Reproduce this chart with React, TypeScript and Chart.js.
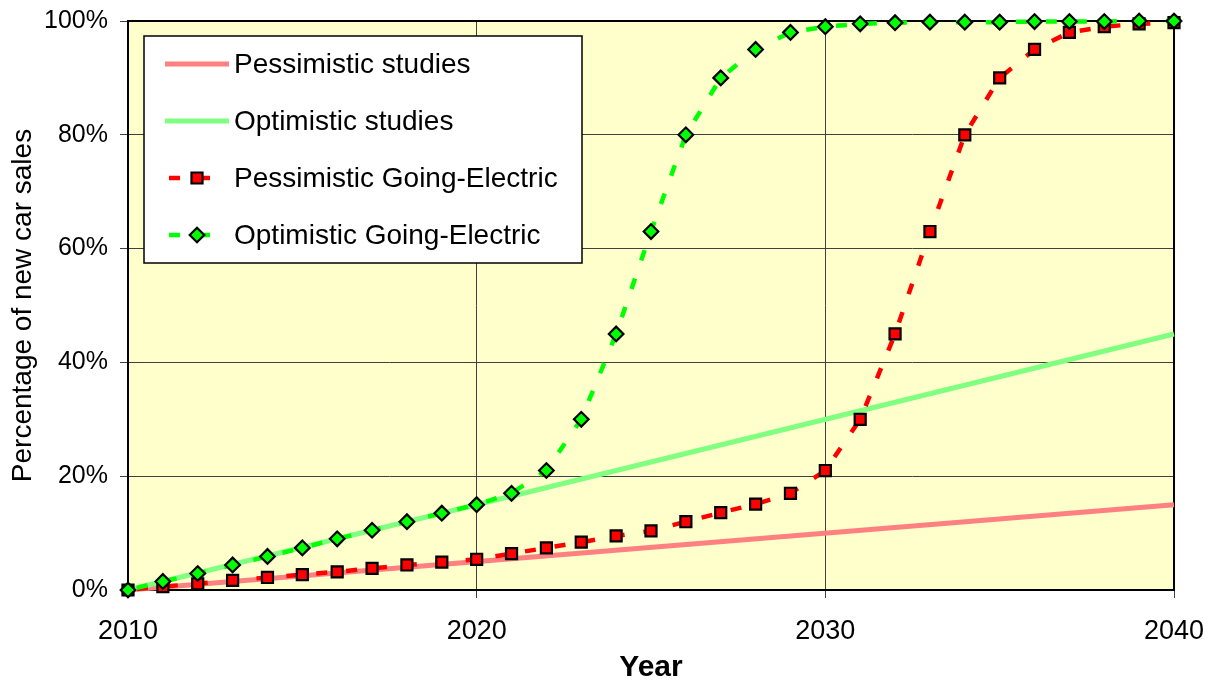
import React, { useEffect, useRef } from 'react';
import { Chart, registerables } from 'chart.js';

Chart.register(...registerables);

const years = [
  2010, 2011, 2012, 2013, 2014, 2015, 2016, 2017, 2018, 2019,
  2020, 2021, 2022, 2023, 2024, 2025, 2026, 2027, 2028, 2029,
  2030, 2031, 2032, 2033, 2034, 2035, 2036, 2037, 2038, 2039, 2040,
];

const pessimisticGoingElectric = [
  0, 0.6, 1.1, 1.7, 2.2, 2.7, 3.2, 3.8, 4.4, 4.9,
  5.4, 6.4, 7.4, 8.4, 9.5, 10.4, 12.0, 13.6, 15.1, 17.0,
  21.0, 30.0, 45.0, 63.0, 80.0, 90.0, 95.0, 98.0, 99.0, 99.5, 99.7,
];

const optimisticGoingElectric = [
  0, 1.5, 2.9, 4.4, 5.9, 7.4, 9.0, 10.5, 12.0, 13.5,
  15.0, 17.0, 21.0, 30.0, 45.0, 63.0, 80.0, 90.0, 95.0, 98.0,
  99.0, 99.5, 99.7, 99.8, 99.8, 99.8, 99.9, 99.9, 99.9, 100, 100,
];

const studyYears = [2010, 2040];
const pessimisticStudies = [0, 15];
const optimisticStudies = [0, 45];

const seriesLabels = [
  'Pessimistic studies',
  'Optimistic studies',
  'Pessimistic Going-Electric',
  'Optimistic Going-Electric',
];

const xTitle = 'Year';
const yTitle = 'Percentage of new car sales';

const FONT = "Arial, 'Liberation Sans', sans-serif";

const zeroPadding = (s: any) => {
  s.paddingTop = 0;
  s.paddingBottom = 0;
  s.paddingLeft = 0;
  s.paddingRight = 0;
};

const framePlugin = {
  id: 'frameAndLegend',
  beforeDraw(chart: any) {
    const { ctx, chartArea: a } = chart;
    ctx.save();
    ctx.fillStyle = '#FFFFCC';
    ctx.fillRect(a.left, a.top, a.right - a.left, a.bottom - a.top);
    ctx.restore();
  },
  beforeDatasetsDraw(chart: any) {
    const { ctx, chartArea: a } = chart;
    ctx.save();
    ctx.strokeStyle = '#000';
    ctx.lineWidth = 2;
    ctx.strokeRect(a.left, a.top, a.right - a.left, a.bottom - a.top);
    ctx.restore();
  },
  afterDraw(chart: any) {
    const { ctx, chartArea: a } = chart;
    const bx = a.left + 16;
    const by = a.top + 15;
    const bw = 438;
    const bh = 227;
    ctx.save();
    ctx.fillStyle = '#FFFFFF';
    ctx.fillRect(bx, by, bw, bh);
    ctx.strokeStyle = '#000';
    ctx.lineWidth = 1.5;
    ctx.strokeRect(bx, by, bw, bh);
    chart.data.datasets.forEach((d: any, i: number) => {
      const y = by + 28 + 57 * i;
      ctx.save();
      ctx.strokeStyle = d.borderColor;
      ctx.lineWidth = d.borderWidth;
      ctx.beginPath();
      if (d.borderDash && d.borderDash.length) {
        ctx.setLineDash(d.borderDash);
        ctx.moveTo(bx + 25, y);
        ctx.lineTo(bx + 66, y);
      } else {
        ctx.moveTo(bx + 21, y);
        ctx.lineTo(bx + 85, y);
      }
      ctx.stroke();
      ctx.restore();
      if (d.pointRadius > 0) {
        const cx = bx + 53;
        const r = d.pointRadius;
        ctx.save();
        ctx.fillStyle = d.pointBackgroundColor;
        ctx.strokeStyle = d.pointBorderColor;
        ctx.lineWidth = d.pointBorderWidth;
        ctx.beginPath();
        if (d.pointStyle === 'rect') {
          const s = Math.SQRT1_2 * r;
          ctx.rect(cx - s, y - s, 2 * s, 2 * s);
        } else {
          ctx.moveTo(cx - r, y);
          ctx.lineTo(cx, y - r);
          ctx.lineTo(cx + r, y);
          ctx.lineTo(cx, y + r);
          ctx.closePath();
        }
        ctx.fill();
        ctx.stroke();
        ctx.restore();
      }
      ctx.fillStyle = '#000';
      ctx.font = `28px ${FONT}`;
      ctx.textAlign = 'left';
      ctx.textBaseline = 'middle';
      ctx.fillText(d.label, bx + 90, y + 1);
    });
    ctx.restore();
  },
};

export default function App() {
  const canvasRef = useRef<HTMLCanvasElement | null>(null);

  useEffect(() => {
    if (!canvasRef.current) return;
    const chart = new Chart(canvasRef.current, {
      type: 'line',
      data: {
        datasets: [
          {
            label: seriesLabels[0],
            data: studyYears.map((x, i) => ({ x, y: pessimisticStudies[i] })),
            borderColor: '#FF8080',
            backgroundColor: '#FF8080',
            borderWidth: 5,
            pointRadius: 0,
            order: 4,
            clip: false,
          } as any,
          {
            label: seriesLabels[1],
            data: studyYears.map((x, i) => ({ x, y: optimisticStudies[i] })),
            borderColor: '#80FF80',
            backgroundColor: '#80FF80',
            borderWidth: 5,
            pointRadius: 0,
            order: 3,
            clip: false,
          },
          {
            label: seriesLabels[2],
            data: years.map((x, i) => ({ x, y: pessimisticGoingElectric[i] })),
            borderColor: '#FF0000',
            backgroundColor: '#FF0000',
            borderWidth: 4.5,
            borderDash: [11, 19],
            borderDashOffset: 21,
            pointStyle: 'rect',
            pointRadius: 7.8,
            pointBackgroundColor: '#FF0000',
            pointBorderColor: '#000000',
            pointBorderWidth: 2.2,
            order: 2,
            clip: false,
          },
          {
            label: seriesLabels[3],
            data: years.map((x, i) => ({ x, y: optimisticGoingElectric[i] })),
            borderColor: '#00FF00',
            backgroundColor: '#00FF00',
            borderWidth: 4.5,
            borderDash: [11, 19],
            borderDashOffset: 21,
            pointStyle: 'rectRot',
            pointRadius: 7.3,
            pointBackgroundColor: '#00FF00',
            pointBorderColor: '#000000',
            pointBorderWidth: 2.2,
            order: 1,
            clip: false,
          },
        ] as any,
      },
      options: {
        animation: false,
        responsive: true,
        maintainAspectRatio: false,
        devicePixelRatio: 1,
        events: [],
        layout: { padding: { top: 21, right: 36, left: 0, bottom: 0 } },
        plugins: {
          legend: { display: false },
          tooltip: { enabled: false },
        },
        scales: {
          x: {
            type: 'linear',
            min: 2010,
            max: 2040,
            afterFit: (s: any) => {
              s.height = 90;
              zeroPadding(s);
            },
            border: { display: false },
            grid: { color: '#404040', lineWidth: 1, tickLength: 8, tickColor: '#404040' },
            ticks: {
              stepSize: 10,
              autoSkip: false,
              maxRotation: 0,
              padding: 17,
              color: '#000',
              font: { family: FONT, size: 27 },
              callback: (v: any) => String(v),
            },
            title: {
              display: true,
              text: xTitle,
              color: '#000',
              font: { family: FONT, size: 30, weight: 'bold', lineHeight: 0.8 },
              padding: { top: 0, bottom: 0 },
            },
          },
          y: {
            type: 'linear',
            min: 0,
            max: 100,
            afterFit: (s: any) => {
              s.width = 128;
              zeroPadding(s);
            },
            border: { display: false },
            grid: { color: '#404040', lineWidth: 1, tickLength: 8, tickColor: '#404040' },
            ticks: {
              stepSize: 20,
              padding: 12,
              color: '#000',
              font: { family: FONT, size: 25 },
              callback: (v: any) => `${v}%`,
            },
            title: {
              display: true,
              text: yTitle,
              color: '#000',
              font: { family: FONT, size: 28 },
              padding: { top: 6, bottom: 0 },
            },
          },
        },
      } as any,
      plugins: [framePlugin],
    });
    return () => chart.destroy();
  }, []);

  return (
    <div style={{ position: 'absolute', left: 0, top: 0, width: 1210, height: 680, background: '#fff' }}>
      <canvas ref={canvasRef} />
    </div>
  );
}
